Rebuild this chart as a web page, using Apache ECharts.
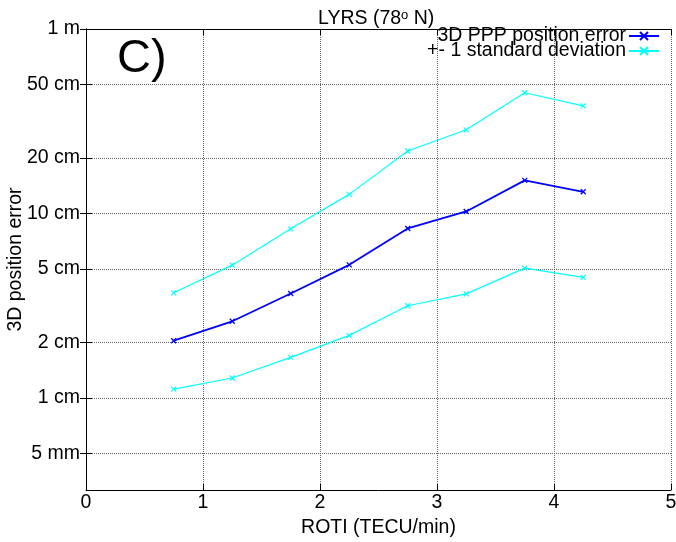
<!DOCTYPE html>
<html>
<head>
<meta charset="utf-8">
<script src="https://cdn.jsdelivr.net/npm/echarts@6/dist/echarts.min.js"></script>
<style>
  html, body { margin: 0; padding: 0; background: #fff; }
  #chart { width: 676px; height: 542px; }
</style>
</head>
<body>
<div id="chart"></div>
<script>
// ROTI bins (TECU/min)
const roti = [0.75, 1.25, 1.75, 2.25, 2.75, 3.25, 3.75, 4.25];
// 3D position error in metres
const errMean = [0.0204, 0.0260, 0.0368, 0.0526, 0.0829, 0.1025, 0.151, 0.131];
const errUpper = [0.0371, 0.0524, 0.0825, 0.1268, 0.218, 0.284, 0.451, 0.383];
const errLower = [0.01115, 0.0128, 0.01656, 0.0218, 0.03155, 0.0366, 0.0505, 0.0450];
// y tick positions and labels
const yTickValues = [0.005, 0.01, 0.02, 0.05, 0.1, 0.2, 0.5, 1];
const yTickLabels = ["5 mm", "1 cm", "2 cm", "5 cm", "10 cm", "20 cm", "50 cm", "1 m"];

const FONT = "'Liberation Sans', Arial, sans-serif";
const FS = 19.5;
const crossSymbol = "path://M0,0L10,10M10,0L0,10";

const toPairs = (ys) => roti.map((x, i) => [x, ys[i]]);

const gridLine = {
  show: true,
  lineStyle: { color: "#666", type: [1, 1], width: 1 },
};
const blackLine = { show: true, lineStyle: { color: "#000", width: 1 } };

function yAxisDef(pos, withLabels) {
  return {
    type: "log",
    logBase: 10,
    position: pos,
    min: Math.pow(10, -2.5),
    max: 1,
    axisLine: blackLine,
    axisTick: {
      show: true,
      inside: true,
      length: 6,
      customValues: yTickValues,
      lineStyle: { color: "#000" },
    },
    minorTick: { show: false },
    axisLabel: {
      show: withLabels,
      customValues: yTickValues,
      formatter: (v) => {
        const i = yTickValues.findIndex((t) => Math.abs(t - v) < t * 1e-6);
        return i >= 0 ? yTickLabels[i] : "";
      },
      color: "#000",
      fontFamily: FONT,
      fontSize: FS,
      margin: 6,
    },
    splitLine: withLabels ? gridLine : { show: false },
    name: withLabels ? "3D position error" : "",
    nameLocation: "middle",
    nameGap: 60,
    nameMoveOverlap: false,
    nameTextStyle: { color: "#000", fontFamily: FONT, fontSize: FS },
  };
}

function xAxisDef(pos, withLabels) {
  return {
    type: "value",
    position: pos,
    min: 0,
    max: 5,
    interval: 1,
    axisLine: blackLine,
    axisTick: { show: true, inside: true, length: 6, lineStyle: { color: "#000" } },
    axisLabel: {
      show: withLabels,
      color: "#000",
      fontFamily: FONT,
      fontSize: FS,
      margin: 3,
    },
    splitLine: withLabels ? gridLine : { show: false },
    name: withLabels ? "ROTI (TECU/min)" : "",
    nameLocation: "middle",
    nameGap: 27,
    nameTextStyle: { color: "#000", fontFamily: FONT, fontSize: FS },
  };
}

const chart = echarts.init(document.getElementById("chart"), null, { renderer: "canvas" });

chart.setOption({
  animation: false,
  backgroundColor: "#fff",
  title: {
    text: "LYRS (78{sup|o} N)",
    left: 313,
    top: 2,
    textStyle: {
      color: "#000",
      fontFamily: FONT,
      fontSize: FS,
      fontWeight: "normal",
      lineHeight: 24,
      rich: {
        sup: { fontSize: 13, fontFamily: FONT, color: "#000", verticalAlign: "bottom", padding: [0, 0, 9, 0] },
      },
    },
  },
  legend: {
    orient: "vertical",
    right: 16,
    top: 26,
    padding: 0,
    align: "right",
    itemWidth: 30,
    itemHeight: 10,
    itemGap: -5,
    textStyle: { color: "#000", fontFamily: FONT, fontSize: FS, padding: [0, -2, 0, 0] },
    data: ["3D PPP position error", "+- 1 standard deviation"],
  },
  grid: { left: 86, right: 5, top: 29, bottom: 52, outerBoundsMode: "none" },
  xAxis: [xAxisDef("bottom", true), xAxisDef("top", false)],
  yAxis: [yAxisDef("left", true), yAxisDef("right", false)],
  graphic: [
    {
      type: "text",
      left: 117,
      top: 36,
      style: { text: "C)", fill: "#000", font: "47px " + FONT },
    },
  ],
  series: [
    {
      name: "3D PPP position error",
      type: "line",
      data: toPairs(errMean),
      symbol: crossSymbol,
      symbolSize: 5,
      itemStyle: { color: "#0000ff", borderColor: "#0000ff", borderWidth: 1.3 },
      lineStyle: { color: "#0000ff", width: 1.8 },
      z: 3,
    },
    {
      name: "+- 1 standard deviation",
      type: "line",
      data: toPairs(errUpper),
      symbol: crossSymbol,
      symbolSize: 5,
      itemStyle: { color: "#00ffff", borderColor: "#00ffff", borderWidth: 1.2 },
      lineStyle: { color: "#00ffff", width: 1.2 },
    },
    {
      name: "+- 1 standard deviation",
      type: "line",
      data: toPairs(errLower),
      symbol: crossSymbol,
      symbolSize: 5,
      itemStyle: { color: "#00ffff", borderColor: "#00ffff", borderWidth: 1.2 },
      lineStyle: { color: "#00ffff", width: 1.2 },
    },
  ],
});
</script>
</body>
</html>
